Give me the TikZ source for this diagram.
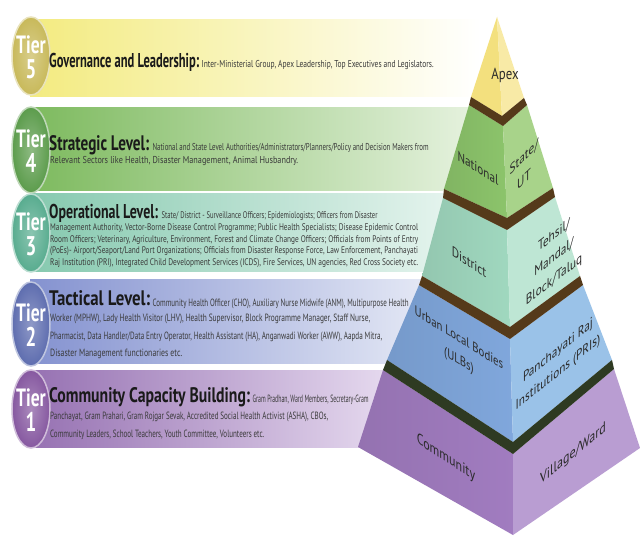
\documentclass[tikz,border=0pt]{standalone}
\usepackage{graphicx}
\usepackage{fontspec}
\setmainfont{PT Sans}[FakeStretch=0.7]
\newfontfamily\pyrfont{PT Sans}[FakeStretch=0.8]

% stretch a line of banner text to a given width, keeping its height
\newcommand{\fitw}[2]{\resizebox{#1}{\height}{#2}}

% tier colours
\definecolor{tfiveband}{HTML}{F3EB80}
\definecolor{tfourband}{HTML}{7DBA5E}
\definecolor{tthreeband}{HTML}{86C9AF}
\definecolor{ttwoband}{HTML}{8492D0}
\definecolor{toneband}{HTML}{9671B2}
\definecolor{tfourfade}{HTML}{E6F2DF}
\definecolor{tthreefade}{HTML}{E5F4EE}
\definecolor{ttwofade}{HTML}{E4E8F5}
\definecolor{tonefade}{HTML}{E6DAEF}
\definecolor{tfivebadge}{HTML}{C8B95A}
\definecolor{tfourbadge}{HTML}{5C9C4C}
\definecolor{tthreebadge}{HTML}{58AC8F}
\definecolor{ttwobadge}{HTML}{5E6DAF}
\definecolor{tonebadge}{HTML}{8658A0}
% pyramid colours
\definecolor{apexL}{HTML}{F3E07E}
\definecolor{apexR}{HTML}{F8EAA6}
\definecolor{greenL}{HTML}{8CC46B}
\definecolor{greenR}{HTML}{A8D38A}
\definecolor{tealL}{HTML}{A0D8BF}
\definecolor{tealR}{HTML}{BEE6D4}
\definecolor{blueL}{HTML}{80A7DC}
\definecolor{blueR}{HTML}{9AC2E8}
\definecolor{purpL}{HTML}{A17CC0}
\definecolor{purpR}{HTML}{B99DD2}
\definecolor{rimbrown}{HTML}{553A1A}
\definecolor{rimolive}{HTML}{2E3A22}
\definecolor{titlecol}{HTML}{1A1A1A}
\definecolor{bodycol}{HTML}{3A3A3A}
\definecolor{pyrtext}{HTML}{2B2B2B}

\begin{document}
\begin{tikzpicture}[x=1pt,y=-1pt,
  title/.style={anchor=base west, inner sep=0pt, text=titlecol, font=\fontsize{#1}{#1}\selectfont\bfseries},
  title/.default=20,
  body/.style={anchor=base west, inner sep=0pt, text=bodycol, font=\fontsize{#1}{#1}\selectfont},
  body/.default=10,
  tierword/.style={inner sep=0pt, text=white, font=\fontsize{25}{25}\selectfont\bfseries},
  pyrlabel/.style={inner sep=0pt, align=center, text=pyrtext, font=\pyrfont\fontsize{14}{#1}\selectfont},
  pyrlabel/.default=17,
]
\useasboundingbox (0,0) rectangle (640,545);
\fill[white] (0,0) rectangle (640,545);

% draw banners
\shade[left color=tfiveband, right color=white] (30,20) rectangle (480,97);
\shade[left color=tfourband, right color=tfourfade] (30,108) rectangle (475,191);
\shade[left color=tthreeband, right color=tthreefade] (30,194) rectangle (450,272);
\shade[left color=ttwoband, right color=ttwofade] (30,280) rectangle (425,363);
\shade[left color=toneband, right color=tonefade] (30,370) rectangle (390,447);

% draw tier badges
\foreach \n/\cy/\ry/\col in {5/56/39/tfivebadge, 4/150/43/tfourbadge, 3/233/39/tthreebadge, 2/324/42/ttwobadge, 1/409/39/tonebadge} {
  \shade[inner color=\col!70!white, outer color=\col] (31,\cy) ellipse (19 and \ry);
  \draw[white!60!\col, line width=1.5pt] (31,\cy) ellipse (19 and \ry);
  \node[tierword] (tier\n) at (31,\cy-11) {Tier};
  \node[tierword, font=\fontsize{27}{27}\selectfont\bfseries] (num\n) at (31,\cy+13) {\n};
}

% tier 5 text
\node[title] (gov) at (49,68) {\fitw{150pt}{Governance and Leadership:}};
\node[body] (govtxt) at ([xshift=2pt]gov.base east) {\fitw{232pt}{Inter-Ministerial Group, Apex Leadership, Top Executives and Legislators.}};

% tier 4 text
\node[title=21] (strat) at (49,151) {\fitw{100pt}{Strategic Level:}};
\node[body] (strattxt) at ([xshift=3pt]strat.base east) {\fitw{276pt}{National and State Level Authorities/Administrators/Planners/Policy and Decision Makers from}};
\node[body] (strattxtb) at (50,164) {\fitw{248pt}{Relevant Sectors like Health, Disaster Management, Animal Husbandry.}};

% tier 3 text
\node[title] (oper) at (49,219) {\fitw{109pt}{Operational Level:}};
\node[body=9.6] (opertxt) at ([xshift=3pt]oper.base east) {\fitw{216pt}{State/ District - Surveillance Officers; Epidemiologists; Officers from Disaster}};
\foreach \y/\txt [count=\i] in {231/{Management Authority, Vector-Borne Disease Control Programme; Public Health Specialists; Disease Epidemic Control},
  242.5/{Room Officers; Veterinary, Agriculture, Environment, Forest and Climate Change Officers; Officials from Points of Entry},
  254/{(PoEs)- Airport/Seaport/Land Port Organizations; Officials from Disaster Response Force, Law Enforcement, Panchayati},
  265.5/{Raj Institution (PRI), Integrated Child Development Services (ICDS), Fire Services, UN agencies, Red Cross Society etc.}}
  \node[body=9.6] (operline\i) at (50,\y) {\fitw{368pt}{\txt}};

% tier 2 text
\node[title=21] (tact) at (49,306) {\fitw{101pt}{Tactical Level:}};
\node[body=10.5] (tacttxt) at ([xshift=2pt]tact.base east) {\fitw{256pt}{Community Health Officer (CHO), Auxiliary Nurse Midwife (ANM), Multipurpose Health}};
\foreach \y/\w/\txt [count=\i] in {321/320pt/{Worker (MPHW), Lady Health Visitor (LHV), Health Supervisor, Block Programme Manager, Staff Nurse,},
  339/332pt/{Pharmacist, Data Handler/Data Entry Operator, Health Assistant (HA), Anganwadi Worker (AWW), Aapda Mitra,},
  356/132pt/{Disaster Management functionaries etc.}}
  \node[body=10.5] (tactline\i) at (50,\y) {\fitw{\w}{\txt}};

% tier 1 text
\node[title=21] (comm) at (49,402) {\fitw{201pt}{Community Capacity Building:}};
\node[body=10.5] (commtxt) at ([xshift=2pt]comm.base east) {\fitw{116pt}{Gram Pradhan, Ward Members, Secretary-Gram}};
\foreach \y/\w/\txt [count=\i] in {419/278pt/{Panchayat, Gram Prahari, Gram Rojgar Sevak, Accredited Social Health Activist (ASHA), CBOs,},
  437/214pt/{Community Leaders, School Teachers, Youth Committee, Volunteers etc.}}
  \node[body=10.5] (commline\i) at (50,\y) {\fitw{\w}{\txt}};

% pyramid corners
\coordinate (top) at (497,17);
\coordinate (aL) at (471,97);  \coordinate (aV) at (502,116); \coordinate (aR) at (524,98);
\coordinate (gL) at (469,105); \coordinate (gV) at (503,126); \coordinate (gR) at (527,105);
\coordinate (bL) at (444,189); \coordinate (bV) at (507,218); \coordinate (bR) at (553,188);
\coordinate (dL) at (443,198); \coordinate (dV) at (507,230); \coordinate (dR) at (555,197);
\coordinate (eL) at (422,276); \coordinate (eV) at (510,327); \coordinate (eR) at (580,276);
\coordinate (uL) at (419,285); \coordinate (uV) at (510,339); \coordinate (uR) at (583,285);
\coordinate (fL) at (387,360); \coordinate (fV) at (513,442); \coordinate (fR) at (612,360);
\coordinate (cL) at (383,370); \coordinate (cV) at (513,454); \coordinate (cR) at (614,369);
\coordinate (zL) at (358,447); \coordinate (zV) at (513,535); \coordinate (zR) at (640,448);

% draw faces
\fill[apexL] (top) -- (aL) -- (aV) -- cycle;
\fill[apexR] (top) -- (aV) -- (aR) -- cycle;
\shade[left color=greenL!92!black, right color=greenL] (gL) -- (bL) -- (bV) -- (gV) -- cycle;
\fill[greenR] (gV) -- (bV) -- (bR) -- (gR) -- cycle;
\shade[left color=tealL!92!black, right color=tealL] (dL) -- (eL) -- (eV) -- (dV) -- cycle;
\fill[tealR] (dV) -- (eV) -- (eR) -- (dR) -- cycle;
\shade[left color=blueL!92!black, right color=blueL] (uL) -- (fL) -- (fV) -- (uV) -- cycle;
\fill[blueR] (uV) -- (fV) -- (fR) -- (uR) -- cycle;
\shade[left color=purpL!92!black, right color=purpL] (cL) -- (zL) -- (zV) -- (cV) -- cycle;
\fill[purpR] (cV) -- (zV) -- (zR) -- (cR) -- cycle;

% draw rims between layers
\fill[rimbrown] (aL) -- (aV) -- (aR) -- (gR) -- (gV) -- (gL) -- cycle;
\fill[rimbrown] (bL) -- (bV) -- (bR) -- (dR) -- (dV) -- (dL) -- cycle;
\fill[rimbrown] (eL) -- (eV) -- (eR) -- (uR) -- (uV) -- (uL) -- cycle;
\fill[rimolive] (fL) -- (fV) -- (fR) -- (cR) -- (cV) -- (cL) -- cycle;

% pyramid labels
\node[pyrlabel, font=\pyrfont\fontsize{16}{16}\selectfont] (apex) at (505,75) {Apex};
\node[pyrlabel, yslant=-0.62] (national) at (478,168) {National};
\node[pyrlabel=23, yslant=0.95] (state) at (524,168) {State/\\UT};
\node[pyrlabel, yslant=-0.65] (district) at (469,262) {District};
\node[pyrlabel=22, yslant=0.78] (tehsil) at (554,258) {Tehsil/\\Mandal/\\Block/Taluq};
\node[pyrlabel=22, yslant=-0.62, font=\pyrfont\fontsize{13.5}{22}\selectfont] (ulb) at (459,350) {Urban Local Bodies\\(ULBs)};
\node[pyrlabel=22, yslant=0.8] (pri) at (558,362) {Panchayati Raj\\Institutions (PRIs)};
\node[pyrlabel, yslant=-0.65, font=\pyrfont\fontsize{15}{17}\selectfont] (community) at (446,458) {Community};
\node[pyrlabel, yslant=0.82, font=\pyrfont\fontsize{15}{17}\selectfont] (village) at (573,454) {Village/Ward};

\end{tikzpicture}
\end{document}
